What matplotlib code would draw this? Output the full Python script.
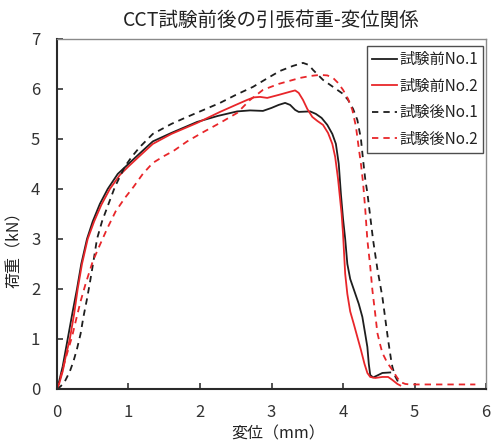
import matplotlib
matplotlib.use("Agg")
import matplotlib.pyplot as plt

plt.rcParams['font.family'] = ['Noto Sans CJK JP', 'DejaVu Sans']

title = "CCT試験前後の引張荷重-変位関係"
xlabel = "変位（mm）"
ylabel = "荷重（kN）"
labels = ["試験前No.1", "試験前No.2", "試験後No.1", "試験後No.2"]

# 試験前No.1
x_b1 = [0.0, 0.03, 0.08, 0.15, 0.22, 0.28, 0.34, 0.42, 0.5, 0.6, 0.71, 0.85, 1.0, 1.15, 1.34,
        1.6, 1.96, 2.25, 2.52, 2.7, 2.88, 3.0, 3.1, 3.19, 3.26, 3.33, 3.38, 3.54, 3.62, 3.7,
        3.78, 3.85, 3.9, 3.94, 3.97, 4.0, 4.03, 4.06, 4.1, 4.16, 4.22, 4.27, 4.31, 4.34, 4.36,
        4.38, 4.42, 4.48, 4.55, 4.66]
y_b1 = [0.0, 0.15, 0.45, 1.0, 1.55, 2.0, 2.5, 3.0, 3.35, 3.7, 4.0, 4.3, 4.5, 4.7, 4.95,
        5.12, 5.34, 5.46, 5.55, 5.57, 5.56, 5.62, 5.68, 5.72, 5.68, 5.58, 5.54, 5.55, 5.5, 5.42,
        5.28, 5.1, 4.9, 4.5, 3.9, 3.4, 3.0, 2.5, 2.2, 1.95, 1.7, 1.44, 1.1, 0.84, 0.5,
        0.28, 0.23, 0.27, 0.32, 0.33]

# 試験前No.2
x_r1 = [0.0, 0.03, 0.08, 0.13, 0.18, 0.24, 0.29, 0.35, 0.43, 0.52, 0.62, 0.74, 0.88, 1.0, 1.15,
        1.34, 1.6, 1.96, 2.28, 2.5, 2.66, 2.75, 2.84, 2.94, 3.1, 3.25, 3.33, 3.38, 3.44, 3.5,
        3.57, 3.64, 3.72, 3.79, 3.85, 3.89, 3.93, 3.96, 3.98, 4.0, 4.03, 4.06, 4.1, 4.15, 4.2,
        4.25, 4.3, 4.34, 4.38, 4.45, 4.55, 4.63, 4.69, 4.76, 4.8]
y_r1 = [0.0, 0.1, 0.35, 0.7, 1.0, 1.5, 2.0, 2.5, 3.0, 3.35, 3.68, 4.0, 4.28, 4.45, 4.65,
        4.9, 5.1, 5.32, 5.54, 5.68, 5.78, 5.83, 5.84, 5.82, 5.88, 5.94, 5.97, 5.92, 5.78, 5.6,
        5.44, 5.36, 5.28, 5.12, 4.9, 4.64, 4.2, 3.78, 3.5, 3.1, 2.3, 1.9, 1.55, 1.3, 1.04,
        0.78, 0.5, 0.32, 0.24, 0.22, 0.24, 0.24, 0.18, 0.1, 0.07]

# 試験後No.1
x_b2 = [0.0, 0.05, 0.11, 0.18, 0.23, 0.28, 0.33, 0.37, 0.42, 0.46, 0.51, 0.56, 0.63, 0.7, 0.81,
        0.95, 1.05, 1.16, 1.34, 1.6, 1.82, 2.05, 2.28, 2.5, 2.74, 2.95, 3.12, 3.3, 3.44, 3.52,
        3.58, 3.65, 3.72, 3.82, 3.92, 4.0, 4.07, 4.14, 4.2, 4.25, 4.28, 4.31, 4.34, 4.38, 4.42,
        4.48, 4.55, 4.6, 4.63, 4.67, 4.69, 4.73, 4.77, 4.82]
y_b2 = [0.0, 0.05, 0.15, 0.35, 0.55, 0.8, 1.1, 1.44, 1.8, 2.12, 2.55, 3.0, 3.35, 3.62, 4.04,
        4.45, 4.65, 4.84, 5.1, 5.3, 5.44, 5.58, 5.72, 5.88, 6.04, 6.22, 6.36, 6.46, 6.52, 6.48,
        6.38, 6.28, 6.18, 6.08, 5.98, 5.9, 5.78, 5.6, 5.38, 5.0, 4.58, 4.2, 3.92, 3.45, 2.98,
        2.4, 1.84, 1.3, 0.98, 0.6, 0.44, 0.25, 0.14, 0.09]

# 試験後No.2
x_r2 = [0.0, 0.02, 0.04, 0.1, 0.16, 0.21, 0.27, 0.33, 0.4, 0.5, 0.6, 0.7, 0.82, 0.95, 1.07,
        1.2, 1.34, 1.5, 1.63, 1.82, 2.05, 2.28, 2.52, 2.7, 2.88, 3.1, 3.4, 3.55, 3.68, 3.78,
        3.86, 3.93, 4.0, 4.07, 4.13, 4.18, 4.21, 4.25, 4.28, 4.31, 4.34, 4.38, 4.41, 4.45, 4.48,
        4.52, 4.55, 4.62, 4.69, 4.75, 4.8, 4.87, 4.94, 5.85]
y_r2 = [0.0, 0.08, 0.18, 0.5, 0.8, 1.04, 1.4, 1.75, 2.1, 2.55, 2.88, 3.2, 3.55, 3.82, 4.04,
        4.3, 4.52, 4.66, 4.76, 4.95, 5.14, 5.32, 5.52, 5.78, 5.98, 6.1, 6.22, 6.26, 6.28, 6.27,
        6.22, 6.12, 5.98, 5.8, 5.58, 5.25, 4.92, 4.5, 4.12, 3.6, 2.98, 2.45, 1.98, 1.5, 1.12,
        0.88, 0.72, 0.52, 0.38, 0.24, 0.14, 0.1, 0.09, 0.09]

xticks = [0, 1, 2, 3, 4, 5, 6]
yticks = [0, 1, 2, 3, 4, 5, 6, 7]

black = "#1e1e1e"
red = "#e8262a"

fig = plt.figure(figsize=(4.91, 4.42), dpi=100)
ax = fig.add_axes([0.116, 0.12, 0.874, 0.792])

lw = 1.3
dash = (0, (3.5, 2.8))
ax.plot(x_b1, y_b1, color=black, lw=lw, label=labels[0])
ax.plot(x_r1, y_r1, color=red, lw=lw, label=labels[1])
ax.plot(x_b2, y_b2, color=black, lw=lw, linestyle=dash, label=labels[2])
ax.plot(x_r2, y_r2, color=red, lw=lw, linestyle=dash, label=labels[3])

ax.set_xlim(0, 6)
ax.set_ylim(0, 7)
ax.set_xticks(xticks)
ax.set_yticks(yticks)
ax.tick_params(direction='in', length=4, width=1.2, labelsize=12, pad=11,
               colors='#333333')
ax.tick_params(axis='y', pad=12)
for s in ['left', 'bottom']:
    ax.spines[s].set_color('#2a2a2a')
    ax.spines[s].set_linewidth(1.5)
for s in ['top', 'right']:
    ax.spines[s].set_color('#8a8a8a')
    ax.spines[s].set_linewidth(1.0)

ax.set_title(title, fontsize=14, color='#222222', pad=9)
ax.set_xlabel(xlabel, fontsize=11.5, color='#222222')
ax.set_ylabel(ylabel, fontsize=11.5, color='#222222')
ax.xaxis.set_label_coords(0.515, -0.105)
ax.yaxis.set_label_coords(-0.078, 0.41)

leg = ax.legend(loc='upper right', bbox_to_anchor=(0.993, 0.98), fontsize=11,
                frameon=True, fancybox=False, edgecolor='#222222',
                handlelength=1.6, handletextpad=0.15, labelspacing=0.62,
                borderpad=0.35, borderaxespad=0.0)
leg.get_frame().set_linewidth(1.0)
for t in leg.get_texts():
    t.set_color('#222222')

fig.savefig("out.png", dpi=100)
